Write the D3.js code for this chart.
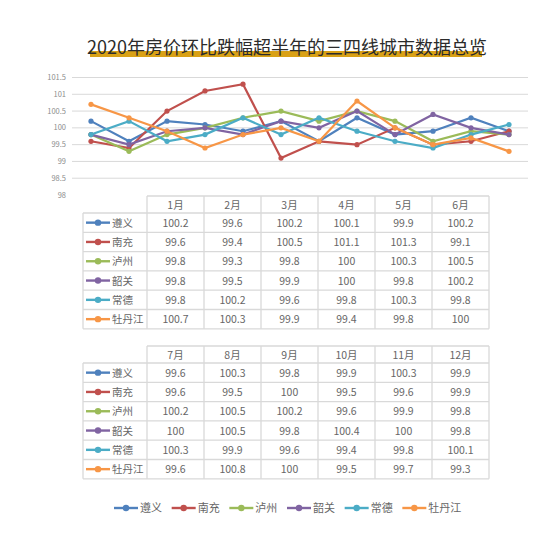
<!DOCTYPE html>
<html>
<head>
<meta charset="utf-8">
<script src="https://cdn.jsdelivr.net/npm/d3@7"></script>
<style>
  body { margin: 0; background: #fff; }
  text { font-family: "Noto Sans CJK SC", "Noto Sans", sans-serif; }
</style>
</head>
<body>
<div id="chart"></div>
<script>
var months = ["1月","2月","3月","4月","5月","6月","7月","8月","9月","10月","11月","12月"];
var cities = ["遵义","南充","泸州","韶关","常德","牡丹江"];
var colors = ["#4F81BD","#C0504D","#9BBB59","#8064A2","#4BACC6","#F79646"];
var zunyi    = [100.2, 99.6, 100.2, 100.1, 99.9, 100.2, 99.6, 100.3, 99.8, 99.9, 100.3, 99.9];
var nanchong = [99.6, 99.4, 100.5, 101.1, 101.3, 99.1, 99.6, 99.5, 100, 99.5, 99.6, 99.9];
var luzhou   = [99.8, 99.3, 99.8, 100, 100.3, 100.5, 100.2, 100.5, 100.2, 99.6, 99.9, 99.8];
var shaoguan = [99.8, 99.5, 99.9, 100, 99.8, 100.2, 100, 100.5, 99.8, 100.4, 100, 99.8];
var changde  = [99.8, 100.2, 99.6, 99.8, 100.3, 99.8, 100.3, 99.9, 99.6, 99.4, 99.8, 100.1];
var mudanjiang = [100.7, 100.3, 99.9, 99.4, 99.8, 100, 99.6, 100.8, 100, 99.5, 99.7, 99.3];
var yTicks = [98, 98.5, 99, 99.5, 100, 100.5, 101, 101.5];

var series = [zunyi, nanchong, luzhou, shaoguan, changde, mudanjiang];
var width = 550, height = 536;
var textGray = "#666666";

var svg = d3.select("#chart").append("svg")
    .attr("width", width)
    .attr("height", height);

// title with gold bar
svg.append("rect")
    .attr("x", 90).attr("y", 51)
    .attr("width", 392).attr("height", 6)
    .attr("fill", "#D9A116");
svg.append("text")
    .attr("x", 287).attr("y", 54)
    .attr("text-anchor", "middle")
    .attr("font-size", 18)
    .attr("fill", "#2b2b2b")
    .text("2020年房价环比跌幅超半年的三四线城市数据总览");

// line chart
var x = d3.scalePoint().domain(months).range([72, 528]).padding(0.5);
var y = d3.scaleLinear().domain([98, 101.5]).range([195, 77.5]);

svg.append("g")
  .selectAll("line")
  .data(yTicks.filter(function(d) { return d > 98; }))
  .enter().append("line")
    .attr("x1", 72).attr("x2", 528)
    .attr("y1", function(d) { return y(d); })
    .attr("y2", function(d) { return y(d); })
    .attr("stroke", "#d9d9d9")
    .attr("stroke-width", 1);

svg.append("g")
  .selectAll("text")
  .data(yTicks)
  .enter().append("text")
    .attr("x", 66)
    .attr("y", function(d) { return y(d) + 2.5; })
    .attr("text-anchor", "end")
    .attr("font-size", 7.5)
    .attr("fill", "#8c8c8c")
    .text(function(d) { return d; });

var line = d3.line()
    .x(function(d, i) { return x(months[i]); })
    .y(function(d) { return y(d); });

series.forEach(function(s, k) {
  var g = svg.append("g");
  g.append("path")
      .attr("d", line(s))
      .attr("fill", "none")
      .attr("stroke", colors[k])
      .attr("stroke-width", 2.2);
  g.selectAll("circle")
    .data(s)
    .enter().append("circle")
      .attr("cx", function(d, i) { return x(months[i]); })
      .attr("cy", function(d) { return y(d); })
      .attr("r", 2.6)
      .attr("fill", colors[k]);
});

// data tables
function drawTable(top, monthIdx) {
  var g = svg.append("g");
  var labelX0 = 83, colX0 = 147, colW = 57, headH = 17, rowH = 19.3;
  var border = "#d9d9d9";
  var nRows = cities.length;
  var right = colX0 + colW * monthIdx.length;
  var bottom = top + headH + rowH * nRows;

  // horizontal lines
  g.append("line").attr("x1", colX0).attr("x2", right)
      .attr("y1", top).attr("y2", top);
  for (var r = 0; r <= nRows; r++) {
    var yy = top + headH + rowH * r;
    g.append("line").attr("x1", labelX0).attr("x2", right)
        .attr("y1", yy).attr("y2", yy);
  }
  // vertical lines
  g.append("line").attr("x1", labelX0).attr("x2", labelX0)
      .attr("y1", top + headH).attr("y2", bottom);
  for (var c = 0; c <= monthIdx.length; c++) {
    var xx = colX0 + colW * c;
    g.append("line").attr("x1", xx).attr("x2", xx)
        .attr("y1", top).attr("y2", bottom);
  }
  g.selectAll("line").attr("stroke", border).attr("stroke-width", 1.3);

  // header
  monthIdx.forEach(function(m, c) {
    g.append("text")
        .attr("x", colX0 + colW * c + colW / 2)
        .attr("y", top + headH / 2 + 4)
        .attr("text-anchor", "middle")
        .attr("font-size", 10.5)
        .attr("fill", textGray)
        .text(months[m]);
  });

  // rows
  cities.forEach(function(city, k) {
    var cy = top + headH + rowH * k + rowH / 2;
    g.append("line")
        .attr("x1", 86).attr("x2", 110)
        .attr("y1", cy).attr("y2", cy)
        .attr("stroke", colors[k]).attr("stroke-width", 2.4);
    g.append("circle")
        .attr("cx", 98).attr("cy", cy).attr("r", 3.2)
        .attr("fill", colors[k]);
    g.append("text")
        .attr("x", 112).attr("y", cy + 4)
        .attr("font-size", 10.5)
        .attr("fill", textGray)
        .text(city);
    monthIdx.forEach(function(m, c) {
      g.append("text")
          .attr("x", colX0 + colW * c + colW / 2)
          .attr("y", cy + 4)
          .attr("text-anchor", "middle")
          .attr("font-size", 10.5)
          .attr("fill", textGray)
          .text(series[k][m]);
    });
  });
}

drawTable(196, [0, 1, 2, 3, 4, 5]);
drawTable(346, [6, 7, 8, 9, 10, 11]);

// legend
var lx = d3.scaleBand().domain(cities).range([114, 460]);
var legend = svg.append("g")
  .selectAll("g")
  .data(cities)
  .enter().append("g")
    .attr("transform", function(d) { return "translate(" + lx(d) + ",508)"; });
legend.append("line")
    .attr("x1", 0).attr("x2", 24)
    .attr("stroke", function(d, i) { return colors[i]; })
    .attr("stroke-width", 2.4);
legend.append("circle")
    .attr("cx", 12).attr("r", 3.2)
    .attr("fill", function(d, i) { return colors[i]; });
legend.append("text")
    .attr("x", 26).attr("y", 4)
    .attr("font-size", 11)
    .attr("fill", textGray)
    .text(function(d) { return d; });
</script>
</body>
</html>
